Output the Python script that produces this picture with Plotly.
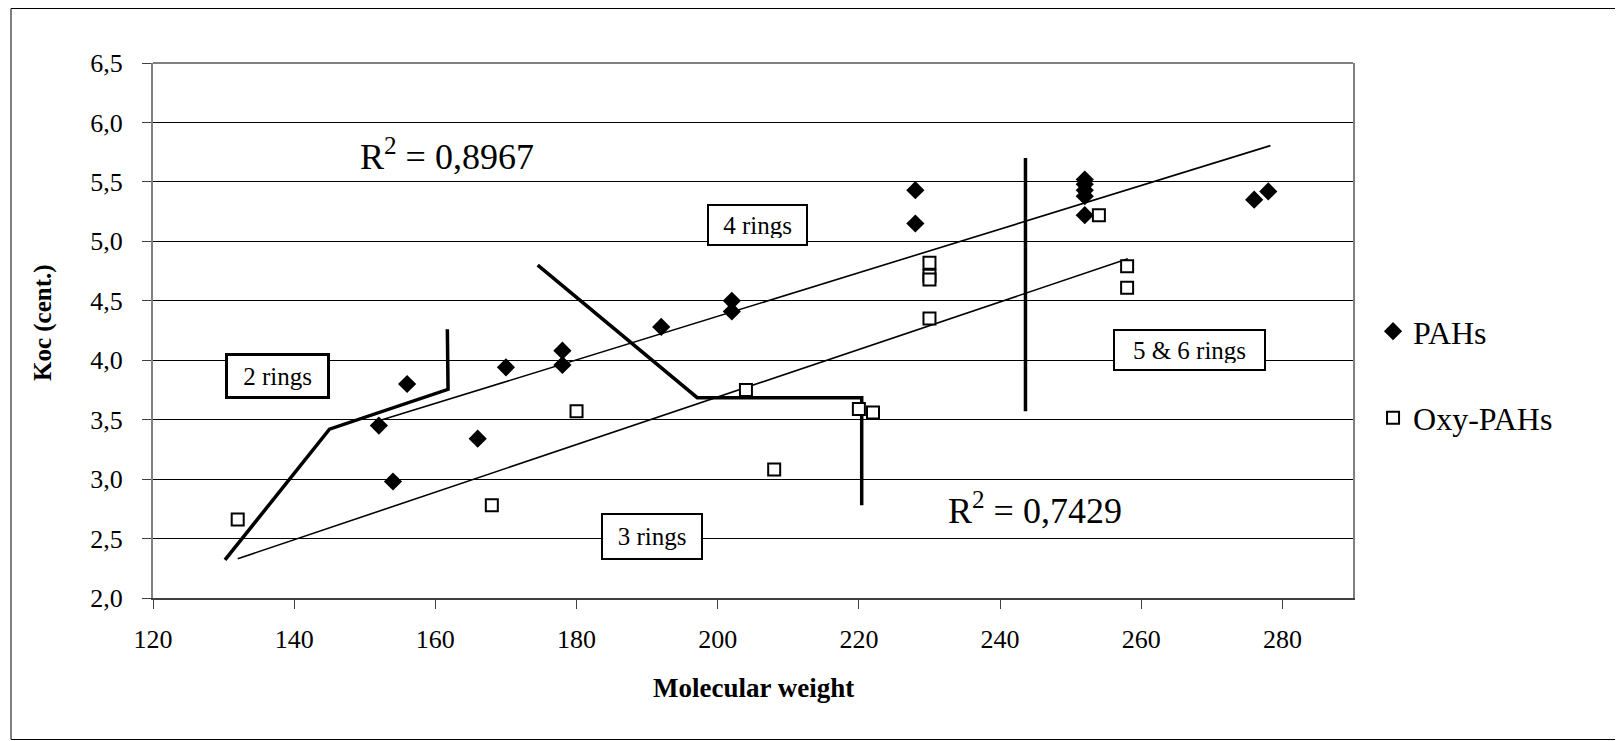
import plotly.graph_objects as go

# Koc vs molecular weight for PAHs and oxy-PAHs
pah_mw = [152, 154, 156, 166, 170, 178, 178, 192, 202, 202, 228, 228, 252, 252, 252, 252, 252, 276, 278]
pah_koc = [3.45, 2.98, 3.80, 3.34, 3.94, 4.08, 3.96, 4.28, 4.50, 4.41, 5.43, 5.15, 5.52, 5.48, 5.43, 5.38, 5.22, 5.35, 5.42]

oxy_mw = [132, 168, 180, 204, 208, 220, 222, 230, 230, 230, 230, 254, 258, 258]
oxy_koc = [2.66, 2.78, 3.57, 3.75, 3.08, 3.59, 3.56, 4.82, 4.71, 4.68, 4.35, 5.22, 4.79, 4.61]

# linear trendlines (end points)
trend_pah_x = [152, 278.3]
trend_pah_y = [3.49, 5.805]
trend_oxy_x = [132, 258.1]
trend_oxy_y = [2.33, 4.853]

# hand drawn ring-group boundaries
ring2_x = [130.2, 145.0, 161.8, 161.7]
ring2_y = [2.32, 3.42, 3.755, 4.26]
ring34_x = [174.5, 197.1, 220.4, 220.4]
ring34_y = [4.80, 3.685, 3.685, 2.78]
ring56_x = [243.6, 243.6]
ring56_y = [5.70, 3.57]

x_ticks = [120, 140, 160, 180, 200, 220, 240, 260, 280]
y_ticks = [2.0, 2.5, 3.0, 3.5, 4.0, 4.5, 5.0, 5.5, 6.0, 6.5]

FONT = "Liberation Serif, Times New Roman, serif"

# plot area in px (figure coords)
L, T, W, H = 145, 55, 1200, 535

fig = go.Figure()

for bx, by in [(trend_pah_x, trend_pah_y), (trend_oxy_x, trend_oxy_y)]:
    fig.add_trace(go.Scatter(x=bx, y=by, mode="lines", line=dict(color="black", width=1.6),
                             showlegend=False, hoverinfo="skip"))

for bx, by in [(ring2_x, ring2_y), (ring34_x, ring34_y), (ring56_x, ring56_y)]:
    fig.add_trace(go.Scatter(x=bx, y=by, mode="lines", line=dict(color="black", width=3.5),
                             showlegend=False, hoverinfo="skip"))

fig.add_trace(go.Scatter(
    x=pah_mw, y=pah_koc, name="PAHs", mode="markers", legendgroup="a",
    marker=dict(symbol="diamond", size=14, color="black"),
))
fig.add_trace(go.Scatter(
    x=oxy_mw, y=oxy_koc, name="Oxy-PAHs", mode="markers", legendgroup="b",
    marker=dict(symbol="square", size=12, color="white", line=dict(color="black", width=2)),
))

# ring labels
boxes = [
    ("2 rings", 137.7, 3.864, 87, 28, 3),
    ("4 rings", 205.6, 5.137, 85, 26, 2),
    ("3 rings", 190.7, 2.515, 86, 31, 2),
    ("5 & 6 rings", 266.8, 4.082, 137, 26, 2),
]
for txt, ax, ay, w, h, bw in boxes:
    fig.add_annotation(x=ax, y=ay, text=txt, showarrow=False, width=w, height=h,
                       font=dict(family=FONT, size=25, color="black"),
                       bgcolor="white", bordercolor="black", borderwidth=bw, borderpad=6)

fig.add_annotation(x=161.6, y=5.73, text="R<sup>2</sup> = 0,8967", showarrow=False,
                   font=dict(family=FONT, size=36, color="black"))
fig.add_annotation(x=245.0, y=2.75, text="R<sup>2</sup> = 0,7429", showarrow=False,
                   font=dict(family=FONT, size=36, color="black"))

# axis titles
fig.add_annotation(xref="paper", yref="paper", x=(35 - L) / W, y=0.514,
                   xanchor="center", yanchor="middle", text="<b>Koc (cent.)</b>",
                   textangle=-90, showarrow=False, font=dict(family=FONT, size=25, color="black"))
fig.add_annotation(xref="paper", yref="paper", x=0.5, y=(T + H - 680) / H,
                   xanchor="center", yanchor="middle", text="<b>Molecular weight</b>",
                   showarrow=False, font=dict(family=FONT, size=27, color="black"))

# outer frame and top border of plot area
fig.add_shape(type="rect", xref="paper", yref="paper",
              x0=(3 - L) / W, x1=(1611 - L) / W,
              y0=(T + H - 731.5) / H, y1=(T + H - 0.5) / H,
              line=dict(color="black", width=1), layer="below")
fig.add_shape(type="line", xref="paper", yref="paper", x0=0, x1=1, y0=1, y1=1,
              line=dict(color="#808080", width=2))

fig.update_layout(
    width=1623, height=741,
    margin=dict(l=L, r=1623 - L - W, t=T, b=741 - T - H),
    paper_bgcolor="white", plot_bgcolor="white",
    separators=", ",
    font=dict(family=FONT, size=26, color="black"),
    legend=dict(x=1.0167, y=0.417, xanchor="left", yanchor="middle",
                font=dict(family=FONT, size=32, color="black"),
                tracegroupgap=42, bgcolor="rgba(0,0,0,0)"),
    xaxis=dict(range=[120, 290], tickvals=x_ticks, showgrid=False, zeroline=False,
               showline=True, linecolor="#404040", linewidth=2,
               ticks="outside", ticklen=9, tickcolor="#404040", ticklabelstandoff=8,
               tickfont=dict(family=FONT, size=26)),
    yaxis=dict(range=[2.0, 6.5], tickvals=y_ticks, tickformat=".1f",
               showgrid=True, gridcolor="black", gridwidth=1, zeroline=False,
               showline=True, mirror=True, linecolor="#808080", linewidth=2,
               ticks="outside", ticklen=9, tickcolor="#404040", ticklabelstandoff=14,
               tickfont=dict(family=FONT, size=26)),
)

fig.write_html("out.html")
